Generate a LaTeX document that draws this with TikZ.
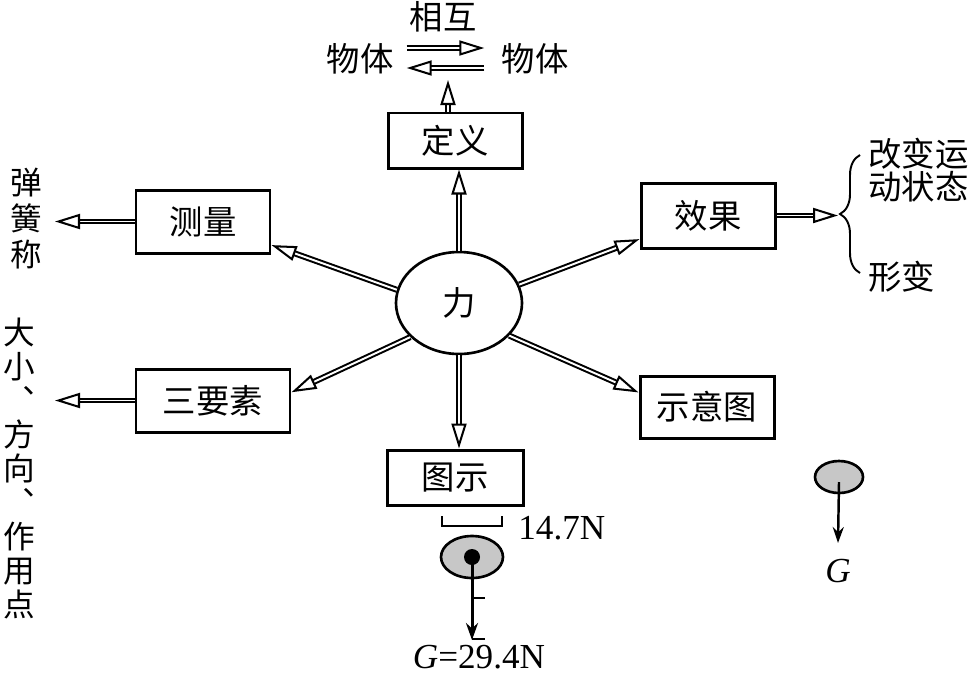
\documentclass[tikz,border=0pt]{standalone}
\usepackage{fontspec}
\setmainfont{Liberation Serif}
\newfontfamily\cjk{Noto Sans CJK SC}
\usetikzlibrary{arrows.meta,shapes.geometric,decorations.pathreplacing}

\begin{document}
\begin{tikzpicture}[
        box/.style={draw, rectangle, line width=1.7pt, inner sep=0pt, font=\cjk\fontsize{19}{22}\selectfont},
        word/.style={inner sep=0pt, font=\cjk\fontsize{19}{22}\selectfont},
        dbl/.style={draw, double, double distance=1.1pt, line width=1.15pt, -{Triangle[open, length=0.5cm, width=0.3cm]}},
        ball/.style={draw, ellipse, fill=black!22, line width=1.5pt, inner sep=0pt},
        num/.style={inner sep=0pt, font=\fontsize{20}{22}\selectfont}
    ]
        \useasboundingbox (0,0) rectangle (19.38,-13.56);

        \node[draw, ellipse, line width=1.5pt, minimum width=2.52cm, minimum height=2.04cm, font=\cjk\fontsize{19}{22}\selectfont] (1) at (9.18,-6.06) {力};
        \node[box, minimum width=2.68cm, minimum height=1.10cm] (2) at (9.10,-2.81) {定义};
        \node[box, minimum width=2.68cm, minimum height=1.26cm] (3) at (4.06,-4.43) {测量};
        \node[box, minimum width=2.68cm, minimum height=1.30cm] (4) at (14.16,-4.31) {效果};
        \node[box, minimum width=3.08cm, minimum height=1.26cm] (5) at (4.26,-8.01) {三要素};
        \node[box, minimum width=2.68cm, minimum height=1.24cm] (6) at (14.14,-8.14) {示意图};
        \node[box, minimum width=2.72cm, minimum height=1.10cm] (7) at (9.10,-9.55) {图示};

        \node[word] (8) at (8.86,-0.34) {相互};
        \node[word] (9) at (7.20,-1.18) {物体};
        \node[word] (10) at (10.70,-1.18) {物体};

        \node[word, align=center, font=\cjk\fontsize{18}{20.5}\selectfont] (11) at (0.52,-4.38) {弹\\簧\\称};
        \node[word, align=center, font=\cjk\fontsize{18}{19.4}\selectfont] (12) at (0.38,-9.37) {大\\小\\︑\\方\\向\\︑\\作\\用\\点};
        \node[word, align=left, anchor=west, font=\cjk\fontsize{19}{17}\selectfont] (13) at (17.36,-3.40) {改变运\\动状态};
        \node[word, anchor=west] (14) at (17.36,-5.54) {形变};

        \coordinate (23) at (1.10,-4.40);
        \coordinate (24) at (16.76,-4.26);
        \coordinate (25) at (8.96,-1.60);

        \path[dbl] (1.north) -- (1.north |- 2.south);
        \path[dbl] (1.south) -- (1.south |- 7.north);
        \path[dbl] (1.168) -- (3.-19);
        \path[dbl] (1.215) -- (5.6);
        \path[dbl] (1.17) -- (4.199);
        \path[dbl] (1.-33) -- (6.168);
        \path[dbl] (3.west) -- (3.west -| 23);
        \path[dbl] (5.west) -- (5.west -| 23);
        \path[dbl] (4.east) -- (4.east -| 24);
        \path[dbl] (2.north -| 25) -- (25);
        \path[dbl, shorten <=0.26cm, shorten >=0.34cm] ([yshift=0.22cm]9.east) -- ([yshift=0.22cm]10.west);
        \path[dbl, shorten <=0.34cm, shorten >=0.26cm] ([yshift=-0.18cm]10.west) -- ([yshift=-0.18cm]9.east);

        % brace of the effects
        \draw[line width=1.1pt, decorate, decoration={brace, amplitude=0.4cm}] (17.2,-5.46) -- (17.2,-3.10);

        % drawing of the force
        \draw[line width=1.6pt] (8.84,-10.32) -- (8.84,-10.52) -- (10.04,-10.52) -- (10.04,-10.32);
        \node[num, anchor=west] (15) at (10.36,-10.56) {14.7N};
        \node[ball, minimum width=1.24cm, minimum height=0.84cm] (16) at (9.44,-11.14) {};
        \node[circle, fill=black, inner sep=0pt, minimum size=0.32cm] (17) at (16) {};
        \coordinate (18) at (9.44,-12.80);
        \path[draw, line width=1.7pt, -{Stealth[length=0.34cm, width=0.24cm]}] (17.center) -- (18);
        \draw[line width=1.6pt] (9.44,-11.96) -- (9.70,-11.96);
        \draw[line width=1.6pt] (9.44,-12.78) -- (9.70,-12.78);
        \node[num, anchor=base] (19) at (9.58,-13.36) {\textit{G}=29.4N};

        % sketch of the force
        \node[ball, minimum width=0.96cm, minimum height=0.64cm] (20) at (16.78,-9.54) {};
        \coordinate (21) at (16.76,-10.86);
        \path[draw, line width=1.4pt, -{Stealth[length=0.32cm, width=0.22cm]}] ([yshift=-0.1cm]20.center) -- (21);
        \node[num] (22) at (16.76,-11.42) {\textit{G}};
    \end{tikzpicture}
\end{document}
